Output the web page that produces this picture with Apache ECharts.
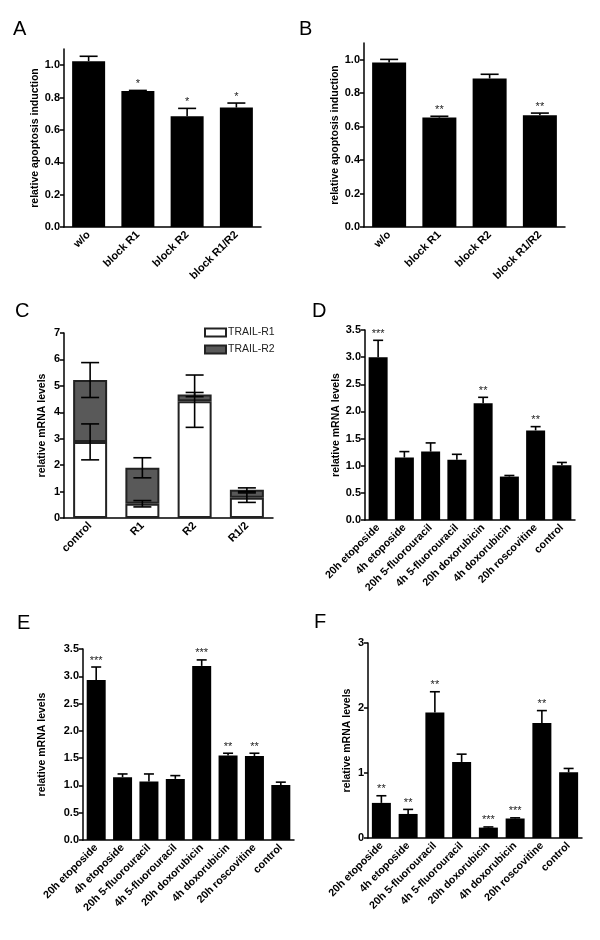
<!DOCTYPE html>
<html>
<head>
<meta charset="utf-8">
<script src="https://cdn.jsdelivr.net/npm/echarts@6/dist/echarts.min.js"></script>
<style>
  html, body { margin: 0; padding: 0; background: #fff; }
  #chart { width: 600px; height: 940px; }
</style>
</head>
<body>
<div id="chart"></div>
<script>
// ---- data ----
const catsAB = ['w/o', 'block R1', 'block R2', 'block R1/R2'];
const valsA = [1.025, 0.84, 0.685, 0.738];
const errA = [0.03, 0.004, 0.048, 0.028];
const sigA = ['', '*', '*', '*'];
const valsB = [0.984, 0.654, 0.888, 0.668];
const errB = [0.018, 0.008, 0.025, 0.013];
const sigB = ['', '**', '', '**'];

const catsC = ['control', 'R1', 'R2', 'R1/2'];
const r1C = [2.88, 0.54, 4.42, 0.77];
const r1ErrC = [0.68, 0.12, 0.99, 0.18];
const r2C = [2.34, 1.36, 0.25, 0.30];
const r2ErrC = [0.66, 0.38, 0.08, 0.07];

const catsDrug = ['20h etoposide', '4h etoposide', '20h 5-fluorouracil', '4h 5-fluorouracil',
  '20h doxorubicin', '4h doxorubicin', '20h roscovitine', 'control'];
const valsD = [3.0, 1.15, 1.26, 1.11, 2.15, 0.80, 1.65, 1.01];
const errD = [0.31, 0.11, 0.16, 0.10, 0.11, 0.02, 0.07, 0.05];
const sigD = ['***', '', '', '', '**', '', '**', ''];
const valsE = [2.93, 1.15, 1.07, 1.12, 3.19, 1.55, 1.54, 1.01];
const errE = [0.24, 0.06, 0.14, 0.06, 0.11, 0.04, 0.05, 0.05];
const sigE = ['***', '', '', '', '***', '**', '**', ''];
const valsF = [0.54, 0.37, 1.93, 1.17, 0.16, 0.30, 1.77, 1.01];
const errF = [0.11, 0.07, 0.32, 0.12, 0.01, 0.01, 0.19, 0.06];
const sigF = ['**', '**', '**', '', '***', '***', '**', ''];

const ticksAB = [0, 0.2, 0.4, 0.6, 0.8, 1.0];
const ticksC = [0, 1, 2, 3, 4, 5, 6, 7];
const ticksDE = [0, 0.5, 1.0, 1.5, 2.0, 2.5, 3.0, 3.5];
const ticksF = [0, 1, 2, 3];

const FONT = '"Liberation Sans", Arial, Helvetica, sans-serif';

// panel layout (pixels)
const panels = [
  { letter: 'A', lx: 13, ly: 19, grid: { left: 64, top: 49, width: 197, height: 178 }, cats: catsAB, max: 1.1, ticks: ticksAB, dec: 1,
    name: 'relative apoptosis induction', nameGap: 22, catSize: 11 },
  { letter: 'B', lx: 299, ly: 19, grid: { left: 364, top: 43, width: 201, height: 184 }, cats: catsAB, max: 1.1, ticks: ticksAB, dec: 1,
    name: 'relative apoptosis induction', nameGap: 21, catSize: 11 },
  { letter: 'C', lx: 15, ly: 301, grid: { left: 64, top: 333, width: 209, height: 185 }, cats: catsC, max: 7, ticks: ticksC, dec: 0,
    name: 'relative mRNA levels', nameGap: 16, catSize: 11 },
  { letter: 'D', lx: 312, ly: 301, grid: { left: 365, top: 330, width: 210, height: 190 }, cats: catsDrug, max: 3.5, ticks: ticksDE, dec: 1,
    name: 'relative mRNA levels', nameGap: 23, catSize: 10.7 },
  { letter: 'E', lx: 17, ly: 613, grid: { left: 83, top: 649, width: 211, height: 191 }, cats: catsDrug, max: 3.5, ticks: ticksDE, dec: 1,
    name: 'relative mRNA levels', nameGap: 35, catSize: 10.7 },
  { letter: 'F', lx: 314, ly: 612, grid: { left: 368, top: 643, width: 214, height: 195 }, cats: catsDrug, max: 3, ticks: ticksF, dec: 0,
    name: 'relative mRNA levels', nameGap: 15, catSize: 10.7 }
];

const axisLineStyle = { color: '#000', width: 1.5 };

function errRender(sigs, capHalf, bothCaps) {
  return function (params, api) {
    const x = api.value(0);
    const lo = api.coord([x, api.value(1)]);
    const hi = api.coord([x, api.value(2)]);
    const style = { stroke: '#000', lineWidth: 1.6 };
    const kids = [
      { type: 'line', shape: { x1: hi[0], y1: lo[1], x2: hi[0], y2: hi[1] }, style: style },
      { type: 'line', shape: { x1: hi[0] - capHalf, y1: hi[1], x2: hi[0] + capHalf, y2: hi[1] }, style: style }
    ];
    if (bothCaps) {
      kids.push({ type: 'line', shape: { x1: lo[0] - capHalf, y1: lo[1], x2: lo[0] + capHalf, y2: lo[1] }, style: style });
    }
    const s = sigs ? sigs[params.dataIndex] : '';
    if (s) {
      kids.push({
        type: 'text',
        style: {
          x: hi[0], y: hi[1] - 1, text: s, fill: '#222',
          fontSize: 11, fontFamily: FONT,
          align: 'center', verticalAlign: 'bottom',
          textAlign: 'center', textVerticalAlign: 'bottom'
        }
      });
    }
    return { type: 'group', children: kids };
  };
}

function errItems(vals, errs) {
  return vals.map(function (v, i) { return [i, v, v + errs[i]]; });
}

const grids = [], xAxes = [], yAxes = [], titles = [], series = [];

panels.forEach(function (p, i) {
  grids.push(Object.assign({ containLabel: false }, p.grid));
  titles.push({ text: p.letter, left: p.lx, top: p.ly, padding: 0,
    textStyle: { fontSize: 20, fontWeight: 'normal', color: '#000', fontFamily: FONT } });
  xAxes.push({
    type: 'category', gridIndex: i, data: p.cats,
    axisLine: { lineStyle: axisLineStyle },
    axisTick: { alignWithLabel: true, length: 5, lineStyle: axisLineStyle },
    axisLabel: { rotate: 45, interval: 0, margin: 6, fontSize: p.catSize, fontWeight: 'bold', color: '#000', fontFamily: FONT }
  });
  yAxes.push({
    type: 'value', gridIndex: i, min: 0, max: p.max,
    splitLine: { show: false },
    axisLine: { show: true, lineStyle: axisLineStyle },
    axisTick: { show: true, length: 4, customValues: p.ticks, lineStyle: axisLineStyle },
    axisLabel: {
      customValues: p.ticks, margin: 4, fontSize: 11, fontWeight: 'bold', color: '#000', fontFamily: FONT,
      formatter: (function (d) { return function (v) { return v.toFixed(d); }; })(p.dec)
    },
    name: p.name, nameLocation: 'middle', nameGap: p.nameGap,
    nameTextStyle: { fontSize: 10.5, fontWeight: 'bold', color: '#000', fontFamily: FONT }
  });
});

function simplePanel(idx, vals, errs, sigs, barWidth, capHalf) {
  series.push({
    type: 'bar', xAxisIndex: idx, yAxisIndex: idx, data: vals, barWidth: barWidth,
    itemStyle: { color: '#000' }, silent: true
  });
  series.push({
    type: 'custom', xAxisIndex: idx, yAxisIndex: idx, z: 5,
    encode: { x: 0, y: [1, 2] },
    data: errItems(vals, errs),
    renderItem: errRender(sigs, capHalf, false)
  });
}

simplePanel(0, valsA, errA, sigA, 33, 9);
simplePanel(1, valsB, errB, sigB, 34, 9);

// panel C: stacked TRAIL-R1 / TRAIL-R2
const totC = r1C.map(function (v, i) { return v + r2C[i]; });
series.push({
  name: 'TRAIL-R1', type: 'bar', stack: 'c', xAxisIndex: 2, yAxisIndex: 2, data: r1C, barWidth: 34,
  itemStyle: { color: '#fff', borderColor: '#222', borderWidth: 2 }
});
series.push({
  name: 'TRAIL-R2', type: 'bar', stack: 'c', xAxisIndex: 2, yAxisIndex: 2, data: r2C, barWidth: 34,
  itemStyle: { color: '#595959', borderColor: '#222', borderWidth: 2 }
});
series.push({
  type: 'custom', xAxisIndex: 2, yAxisIndex: 2, z: 5, encode: { x: 0, y: [1, 2] },
  data: r1C.map(function (v, i) { return [i, v - r1ErrC[i], v + r1ErrC[i]]; }),
  renderItem: errRender(null, 9, true)
});
series.push({
  type: 'custom', xAxisIndex: 2, yAxisIndex: 2, z: 5, encode: { x: 0, y: [1, 2] },
  data: totC.map(function (v, i) { return [i, v - r2ErrC[i], v + r2ErrC[i]]; }),
  renderItem: errRender(null, 9, true)
});

simplePanel(3, valsD, errD, sigD, 19, 5);
simplePanel(4, valsE, errE, sigE, 19, 5);
simplePanel(5, valsF, errF, sigF, 19, 5);

const chart = echarts.init(document.getElementById('chart'));
chart.setOption({
  animation: false,
  backgroundColor: '#fff',
  title: titles,
  legend: {
    data: ['TRAIL-R1', 'TRAIL-R2'], orient: 'vertical', left: 199, top: 322,
    icon: 'rect', itemWidth: 21, itemHeight: 8, itemGap: 6,
    textStyle: { fontSize: 10.5, color: '#222', fontFamily: FONT, padding: [0, 0, 0, -3] }
  },
  grid: grids,
  xAxis: xAxes,
  yAxis: yAxes,
  series: series
});
</script>
</body>
</html>
